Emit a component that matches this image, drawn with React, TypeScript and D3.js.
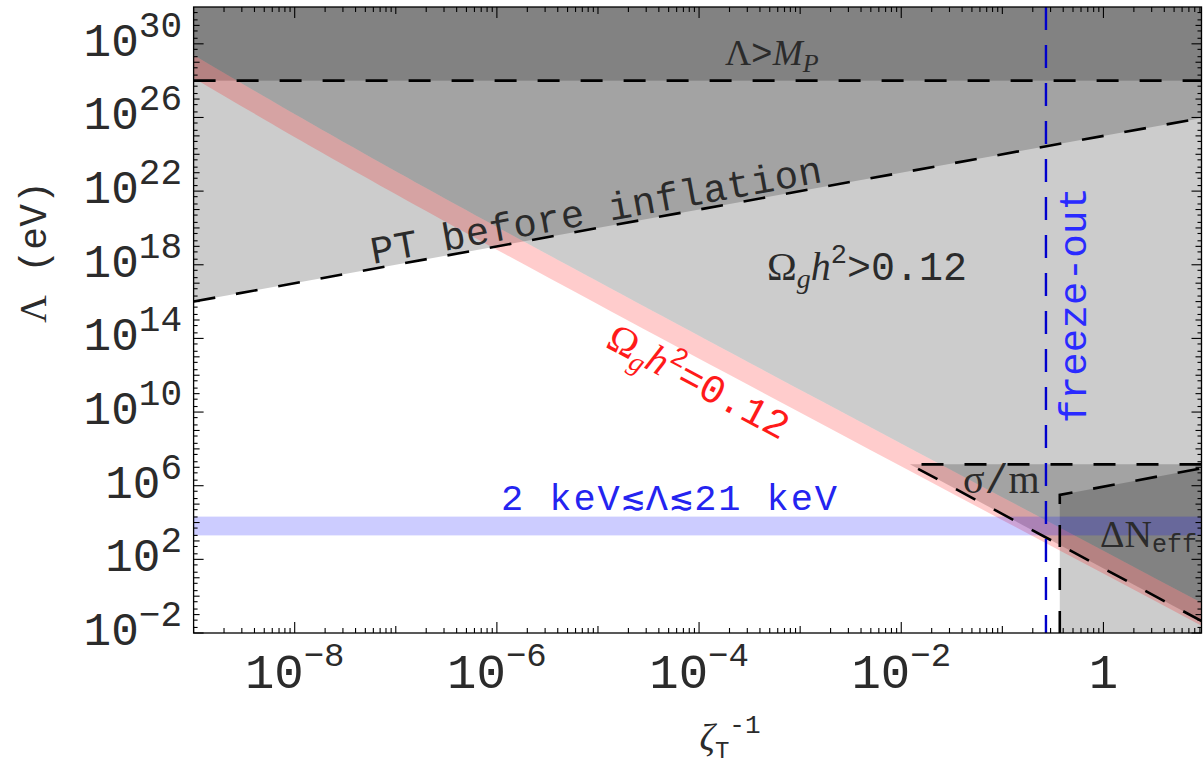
import React from 'react';
import * as d3 from 'd3';

document.body.style.margin = '0';

const W = 1203;
const H = 771;
const MONO = "'Liberation Mono', 'Courier New', monospace";
const SERIF = "'Liberation Serif', 'Times New Roman', serif";
const INK = '#2b2b2b';

// plot ranges
const xDomain: [number, number] = [1e-9, 10 ** 0.97];
const yDomain: [number, number] = [1e-2, 1e32];

// boundaries: [zeta^-1, Lambda (eV)]
const planckMass = 1e28;
const ptLine: [number, number][] = [[1e-9, 1e16], [10, 1e26]];
const relicUpper: [number, number][] = [[1e-9, 10 ** 29.39], [10 ** -5.88, 10 ** 19.7], [10, 10 ** -0.45]];
const relicLower: [number, number][] = [[1e-9, 10 ** 28.15], [10 ** -5.88, 10 ** 18.46], [10, 10 ** -1.69]];
const sigmaTop = 10 ** 7.16;
const sigmaEdge: [number, number][] = [[10 ** -1.915, 10 ** 7.16], [10, 10 ** -1.44]];
const nEffEdge: [number, number][] = [[0.37, 10 ** 5.5], [10, 10 ** 6.98]];
const freezeOut = 0.27;
const keVBand: [number, number] = [2e3, 2.1e4];

// tick labels
const yLabelExp = [30, 26, 22, 18, 14, 10, 6, 2, -2];
const xLabelExp = [-8, -6, -4, -2, 0];

const x = d3.scaleLog().domain(xDomain).range([193.6, 1201.5]);
const y = d3.scaleLog().domain(yDomain).range([633, 7]);
const [L, R] = x.range();
const [B, T] = y.range();

const minus = (n: number) => (n < 0 ? '\u2212' + Math.abs(n) : String(n));

export default function App() {
  const line = d3.line<[number, number]>().x(d => x(d[0])).y(d => y(d[1]));

  const aboveArea = (pts: [number, number][], c: d3.CurveFactory = d3.curveLinear) =>
    d3.area<[number, number]>().x(d => x(d[0])).y0(d => y(d[1])).y1(T).curve(c)(pts) || '';

  const relicBand = d3.area<number>()
    .x(i => x(relicUpper[i][0]))
    .y0(i => y(relicLower[i][1]))
    .y1(i => y(relicUpper[i][1]))
    .curve(d3.curveNatural)(d3.range(relicUpper.length)) || '';

  const sigmaArea = d3.area<[number, number]>()
    .x(d => x(d[0])).y0(d => y(d[1])).y1(y(sigmaTop))(sigmaEdge) || '';
  const nEffArea = d3.area<[number, number]>()
    .x(d => x(d[0])).y0(B).y1(d => y(d[1]))(nEffEdge) || '';

  // ticks
  const xTicks: { v: number; len: number }[] = [];
  for (let k = -9; k <= 0; k++) {
    for (let m = 1; m <= 9; m++) {
      const v = m * 10 ** k;
      if (v < xDomain[0] || v > xDomain[1]) continue;
      xTicks.push({ v, len: m === 1 ? (k % 2 === 0 ? 11 : 7) : 5 });
    }
  }
  const yTicks: { v: number; len: number }[] = [];
  for (let k = -2; k <= 31; k++) {
    for (const m of [1, 2, 5]) {
      const v = m * 10 ** k;
      if (v > yDomain[1]) continue;
      const major = m === 1 && (((k % 4) + 4) % 4) === 2;
      yTicks.push({ v, len: major ? 10 : m === 1 ? 6 : 4 });
    }
  }

  const dash = { stroke: '#000', strokeWidth: 2.6, strokeDasharray: '22 21', fill: 'none' };
  const shade = { fill: '#000', fillOpacity: 0.2 };

  const angle = (a: [number, number], b: [number, number]) =>
    (Math.atan2(y(b[1]) - y(a[1]), x(b[0]) - x(a[0])) * 180) / Math.PI;
  const ptAngle = angle(ptLine[0], ptLine[1]);
  const relicAngle = angle(relicUpper[1], relicUpper[2]);
  const ptStartX = 373;
  const ptStartY = y(ptLine[0][1] * (x.invert(ptStartX) / ptLine[0][0])) - 5;

  return (
    <svg width={W} height={H} style={{ display: 'block', background: '#fff' }}>
      <defs>
        <clipPath id="plot">
          <rect x={L} y={T} width={R - L} height={B - T} />
        </clipPath>
      </defs>

      <g clipPath="url(#plot)">
        {/* excluded regions, each a translucent layer */}
        <rect x={L} y={T} width={R - L} height={y(planckMass) - T} {...shade} />
        <path d={aboveArea(ptLine)} {...shade} />
        <path d={aboveArea(relicUpper, d3.curveNatural)} {...shade} />
        <path d={sigmaArea} {...shade} />
        <path d={nEffArea} {...shade} />

        {/* relic abundance band */}
        <path d={relicBand} fill="#ff0000" fillOpacity={0.2} />
        {/* keV band */}
        <rect x={L} y={y(keVBand[1])} width={R - L} height={y(keVBand[0]) - y(keVBand[1])} fill="#0000ff" fillOpacity={0.2} />

        {/* dashed boundaries */}
        <line x1={L} x2={R} y1={y(planckMass)} y2={y(planckMass)} {...dash} />
        <path d={line(ptLine) || ''} {...dash} />
        <path d={line([[xDomain[1], sigmaTop], sigmaEdge[0], sigmaEdge[1]]) || ''} {...dash} />
        <path d={line([[nEffEdge[0][0], yDomain[0]], ...nEffEdge]) || ''} {...dash} />
        <line x1={x(freezeOut)} x2={x(freezeOut)} y1={T} y2={B} stroke="#0000cc" strokeWidth={2.4} strokeDasharray="23 15" />

        {/* annotations */}
        <text x={725} y={65} fontSize={36} fill={INK}>
          <tspan fontFamily={SERIF}>Λ</tspan>
          <tspan fontFamily={MONO}>&gt;</tspan>
          <tspan fontFamily={SERIF} fontStyle="italic">M</tspan>
          <tspan fontFamily={SERIF} fontStyle="italic" fontSize={26} dy={7}>P</tspan>
        </text>
        <text
          fontFamily={MONO}
          fontSize={39}
          fill={INK}
          textLength={458}
          lengthAdjust="spacing"
          transform={`translate(${ptStartX},${ptStartY}) rotate(${ptAngle})`}
        >
          PT before inflation
        </text>
        <text x={767} y={280} fontSize={40} fill={INK}>
          <tspan fontFamily={SERIF}>Ω</tspan>
          <tspan fontFamily={SERIF} fontStyle="italic" fontSize={28} dy={8}>g</tspan>
          <tspan fontFamily={SERIF} fontStyle="italic" dy={-8}>h</tspan>
          <tspan fontFamily={MONO} fontSize={27} dy={-17}>2</tspan>
          <tspan fontFamily={MONO} dy={17}>&gt;0.12</tspan>
        </text>
        <text fontSize={40} fill="#ff1a1a" textAnchor="middle" transform={`translate(699,381) rotate(${relicAngle})`} dy="0.35em">
          <tspan fontFamily={SERIF}>Ω</tspan>
          <tspan fontFamily={SERIF} fontStyle="italic" fontSize={28} dy={8}>g</tspan>
          <tspan fontFamily={SERIF} fontStyle="italic" dy={-8}>h</tspan>
          <tspan fontFamily={MONO} fontSize={27} dy={-17}>2</tspan>
          <tspan fontFamily={MONO} dy={17}>=0.12</tspan>
        </text>
        <text fontFamily={MONO} fontSize={39} fill="#2a2aff" textLength={236} lengthAdjust="spacing" transform="translate(1086,423) rotate(-90)">
          freeze-out
        </text>
        <text x={501} y={510} fontFamily={MONO} fontSize={37} fill="#2424f0" textLength={336} lengthAdjust="spacing">
          2 keV≲Λ≲21 keV
        </text>
        <text x={963} y={493} fontSize={40} fill={INK} fontFamily={SERIF}>
          σ<tspan fontFamily={MONO}>/</tspan>m
        </text>
      </g>
      <text x={1100} y={547} fontSize={38} fill={INK} fontFamily={SERIF}>
        ΔN<tspan fontFamily={MONO} fontSize={25} dy={5}>eff</tspan>
      </text>

      {/* frame and ticks */}
      <rect x={L} y={T} width={R - L} height={B - T} fill="none" stroke="#000" strokeWidth={1.3} />
      <g stroke="#000" strokeWidth={1.1}>
        {xTicks.map((t, i) => (
          <g key={'x' + i}>
            <line x1={x(t.v)} x2={x(t.v)} y1={B} y2={B - t.len} />
            <line x1={x(t.v)} x2={x(t.v)} y1={T} y2={T + t.len} />
          </g>
        ))}
        {yTicks.map((t, i) => (
          <g key={'y' + i}>
            <line x1={L} x2={L + t.len} y1={y(t.v)} y2={y(t.v)} />
            <line x1={R} x2={R - t.len} y1={y(t.v)} y2={y(t.v)} />
          </g>
        ))}
      </g>

      {/* tick labels */}
      <g fontFamily={MONO} fill={INK}>
        {yLabelExp.map(e => (
          <text key={'yl' + e} x={182} y={y(10 ** e) + 12} textAnchor="end" fontSize={46}>
            10<tspan fontSize={36} dy={-19}>{minus(e)}</tspan>
          </text>
        ))}
        {xLabelExp.map(e => (
          <text key={'xl' + e} x={x(10 ** e)} y={688} textAnchor="middle" fontSize={49}>
            {e === 0 ? '1' : <>10<tspan fontSize={34} dy={-22}>{minus(e)}</tspan></>}
          </text>
        ))}
      </g>

      {/* axis titles */}
      <text x={730} y={750} textAnchor="middle" fontSize={38} fill={INK}>
        <tspan fontFamily={SERIF} fontStyle="italic">ζ</tspan>
        <tspan fontFamily={MONO} fontSize={24} dy={8}>T</tspan>
        <tspan fontFamily={MONO} fontSize={26} dy={-25}>-1</tspan>
      </text>
      <text fontSize={38} fill={INK} textAnchor="middle" transform="translate(46,252) rotate(-90)">
        <tspan fontFamily={SERIF}>Λ</tspan>
        <tspan fontFamily={MONO}> (eV)</tspan>
      </text>
    </svg>
  );
}
